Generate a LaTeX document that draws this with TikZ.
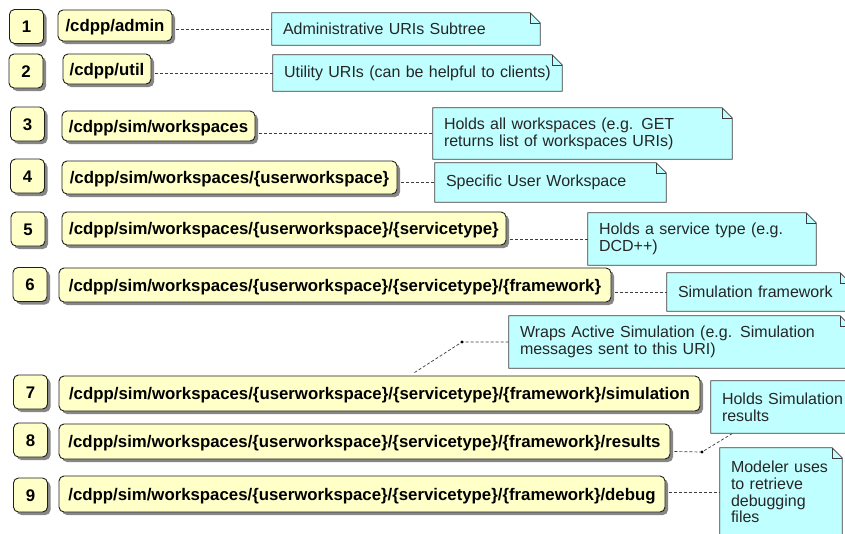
\documentclass[tikz,border=0pt]{standalone}
\usepackage{fontspec}
\setmainfont{Liberation Sans}
\usetikzlibrary{shadows,backgrounds}
\definecolor{pathfill}{RGB}{255,255,200}
\definecolor{notefill}{RGB}{192,255,255}
\definecolor{edgecol}{RGB}{30,30,30}
\definecolor{noteedge}{RGB}{60,60,60}
\definecolor{conncol}{RGB}{60,60,60}
\newcommand{\notefont}{\fontsize{16}{16.8}\selectfont}
\newcommand{\urifont}{\fontsize{16.8}{18}\selectfont\bfseries}
\newcommand{\mynote}[1]{%
  \path[fill=notefill, draw=noteedge, line width=0.8pt]
    (#1.south west) -- (#1.north west) -- ([xshift=-10pt]#1.north east)
    -- ([yshift=-10pt]#1.north east) -- (#1.south east) -- cycle;
  \draw[noteedge, line width=0.6pt]
    ([xshift=-10pt]#1.north east) -- ([xshift=-10pt,yshift=-10pt]#1.north east)
    -- ([yshift=-10pt]#1.north east);}
\tikzset{
  numbox/.style={draw=edgecol, line width=0.9pt, fill=pathfill, rounded corners=5pt,
    minimum width=34pt, minimum height=34pt, inner sep=0pt, font=\urifont,
    text height=12pt, text depth=0pt,
    drop shadow={shadow xshift=3pt, shadow yshift=-3pt, fill=black!55, opacity=0.85}},
  uribox/.style={numbox, minimum width=#1},
  notebox/.style n args={2}{inner xsep=11pt, inner ysep=0pt, align=left, font=\notefont,
    text width=#1, minimum height=#2, text=black!85},
  conn/.style={draw=conncol, line width=0.7pt, dash pattern=on 3pt off 2pt},
  dotmark/.style={fill=black}
}
\begin{document}
\begin{tikzpicture}[x=1pt,y=-1pt]
\useasboundingbox (0,0) rectangle (845,533);

% number boxes
\node[numbox] (b1) at (26.5,26.5) {1};
\node[numbox] (b2) at (26,71) {2};
\node[numbox] (b3) at (27.5,124) {3};
\node[numbox] (b4) at (27.5,176) {4};
\node[numbox] (b5) at (28,229) {5};
\node[numbox] (b6) at (30,284.5) {6};
\node[numbox] (b7) at (30.5,392) {7};
\node[numbox] (b8) at (30.5,440) {8};
\node[numbox] (b9) at (30.5,495) {9};

% URI boxes
\node[uribox=114pt, minimum height=31pt] (p1) at (115,25.5) {/cdpp/admin};
\node[uribox=88pt, minimum height=30pt] (p2) at (107,69) {/cdpp/util};
\node[uribox=193pt, minimum height=30pt] (p3) at (158.5,126) {/cdpp/sim/workspaces};
\node[uribox=335pt, minimum height=33pt] (p4) at (229.5,177.5) {/cdpp/sim/workspaces/\{userworkspace\}};
\node[uribox=444pt, minimum height=33pt] (p5) at (284,228.5) {/cdpp/sim/workspaces/\{userworkspace\}/\{servicetype\}};
\node[uribox=552pt, minimum height=34pt] (p6) at (335,285) {/cdpp/sim/workspaces/\{userworkspace\}/\{servicetype\}/\{framework\}};
\node[uribox=641pt, minimum height=35pt] (p7) at (379.5,393.5) {/cdpp/sim/workspaces/\{userworkspace\}/\{servicetype\}/\{framework\}/simulation};
\node[uribox=611pt, minimum height=35pt] (p8) at (364.5,441.5) {/cdpp/sim/workspaces/\{userworkspace\}/\{servicetype\}/\{framework\}/results};
\node[uribox=606pt, minimum height=36pt] (p9) at (362,494) {/cdpp/sim/workspaces/\{userworkspace\}/\{servicetype\}/\{framework\}/debug};

% notes
\node[notebox={246pt}{32pt}] (n1) at (406,29) {Administrative URIs Subtree};
\node[notebox={267pt}{36pt}] (n2) at (417.5,73) {\mbox{Utility URIs (can be helpful to clients)}};
\node[notebox={277pt}{51pt}] (n3) at (582.5,133.5) {Holds all workspaces (e.g. GET\\returns list of workspaces URIs)};
\node[notebox={209pt}{39pt}] (n4) at (550.5,182.5) {Specific User Workspace};
\node[notebox={206pt}{52pt}] (n5) at (702,239) {Holds a service type (e.g.\\DCD++)};
\node[notebox={161pt}{38pt}] (n6) at (758.5,292) {Simulation framework};
\node[notebox={319pt}{52pt}] (n7) at (679.5,342) {Wraps Active Simulation (e.g. Simulation\\messages sent to this URI)};
\node[notebox={127pt}{52pt}] (n8) at (785.5,407) {Holds Simulation\\results};
\node[notebox={100pt}{88pt}] (n9) at (781,492) {Modeler uses\\to retrieve\\debugging\\files};

\begin{scope}[on background layer]
  \fill[white] (0,0) rectangle (845,533);
  \foreach \n in {n1,n2,n3,n4,n5,n6,n7,n8,n9} {\mynote{\n}}
\end{scope}

% connectors
\draw[conn] ([xshift=4pt]p1.east |- n1.west) -- (n1.west);
\draw[conn] ([xshift=4pt]p2.east |- n2.west) -- (n2.west);
\draw[conn] ([xshift=4pt]p3.east |- n3.west) -- (n3.west);
\draw[conn] ([xshift=4pt]p4.east |- n4.west) -- (n4.west);
\draw[conn] ([xshift=4pt]p5.east |- n5.west) -- (n5.west);
\draw[conn] ([xshift=4pt]p6.east |- n6.west) -- (n6.west);
\coordinate (k7) at (462,342);
\draw[conn] ([xshift=35pt,yshift=3pt]p7.north) -- (k7) -- (n7.west);
\fill[dotmark] (k7) circle (1.6pt);
\coordinate (k8) at (702,452);
\draw[conn] ([xshift=4pt,yshift=-10pt]p8.east) -- (k8) -- ([xshift=22pt]n8.south west);
\fill[dotmark] (k8) circle (1.6pt);
\draw[conn] ([xshift=4pt]p9.east |- n9.west) -- (n9.west);
\end{tikzpicture}
\end{document}
